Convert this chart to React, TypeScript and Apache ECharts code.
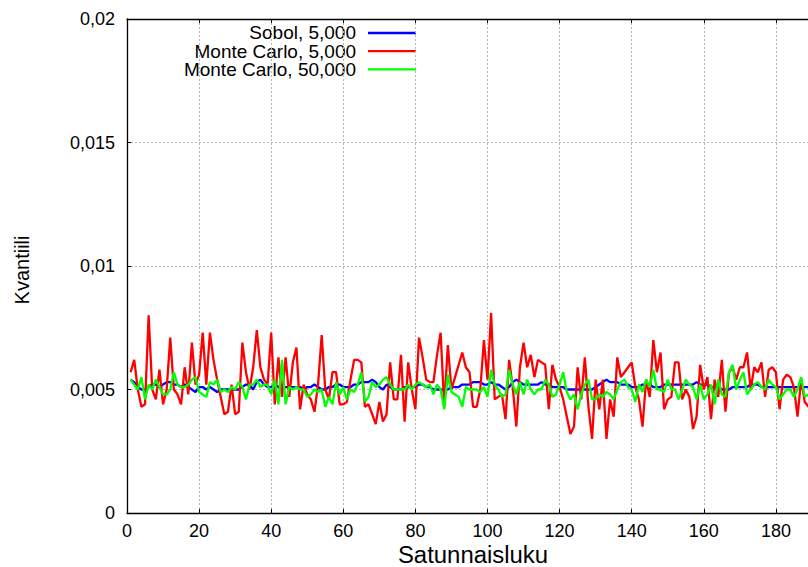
import React, { useEffect, useRef } from "react";
import * as echarts from "echarts";

// Sample index starts at 1
const sobol5000 = [
  0.0054, 0.0053, 0.0051, 0.0050, 0.0050, 0.0051, 0.0052, 0.0052, 0.0051, 0.0052,
  0.0053, 0.0053, 0.0052, 0.0052, 0.0051, 0.0052, 0.0051, 0.0050, 0.0049, 0.0051,
  0.0051, 0.0050, 0.0051, 0.0050, 0.0049, 0.0050, 0.0050, 0.0050, 0.0050, 0.0050,
  0.0050, 0.0051, 0.0052, 0.0052, 0.0050, 0.0053, 0.0054, 0.0052, 0.0051, 0.0051,
  0.0052, 0.0051, 0.0050, 0.0051, 0.0051, 0.0051, 0.0051, 0.0051, 0.0050, 0.0051,
  0.0051, 0.0052, 0.0051, 0.0050, 0.0050, 0.0051, 0.0051, 0.0052, 0.0052, 0.0051,
  0.0051, 0.0051, 0.0052, 0.0052, 0.0053, 0.0053, 0.0053, 0.0054, 0.0053, 0.0051,
  0.0050, 0.0052, 0.0051, 0.0050, 0.0050, 0.0050, 0.0051, 0.0051, 0.0051, 0.0051,
  0.0052, 0.0052, 0.0051, 0.0051, 0.0050, 0.0050, 0.0050, 0.0050, 0.0050, 0.0051,
  0.0051, 0.0051, 0.0052, 0.0052, 0.0052, 0.0053, 0.0053, 0.0053, 0.0052, 0.0052,
  0.0053, 0.0052, 0.0052, 0.0051, 0.0050, 0.0051, 0.0053, 0.0054, 0.0053, 0.0052,
  0.0052, 0.0052, 0.0052, 0.0052, 0.0053, 0.0052, 0.0052, 0.0051, 0.0051, 0.0051,
  0.0051, 0.0050, 0.0050, 0.0050, 0.0050, 0.0050, 0.0050, 0.0050, 0.0050, 0.0051,
  0.0052, 0.0053, 0.0054, 0.0053, 0.0053, 0.0053, 0.0052, 0.0052, 0.0052, 0.0051,
  0.0051, 0.0051, 0.0052, 0.0052, 0.0052, 0.0051, 0.0051, 0.0051, 0.0052, 0.0052,
  0.0052, 0.0052, 0.0052, 0.0052, 0.0052, 0.0052, 0.0052, 0.0053, 0.0052, 0.0052,
  0.0052, 0.0051, 0.0051, 0.0051, 0.0050, 0.0050, 0.0050, 0.0051, 0.0051, 0.0051,
  0.0051, 0.0051, 0.0052, 0.0052, 0.0052, 0.0051, 0.0051, 0.0051, 0.0051, 0.0051,
  0.0051, 0.0051, 0.0051, 0.0051, 0.0051, 0.0051, 0.0051, 0.0051, 0.0051,
];

const monteCarlo5000 = [
  0.0057, 0.0062, 0.0050, 0.0043, 0.0044, 0.0080, 0.0050, 0.0046, 0.0058, 0.0044,
  0.0050, 0.0071, 0.0050, 0.0048, 0.0044, 0.0059, 0.0048, 0.0069, 0.0052, 0.0056,
  0.0073, 0.0052, 0.0073, 0.0062, 0.0054, 0.0047, 0.0040, 0.0041, 0.0052, 0.0040,
  0.0041, 0.0069, 0.0057, 0.0050, 0.0059, 0.0074, 0.0059, 0.0054, 0.0052, 0.0073,
  0.0044, 0.0063, 0.0047, 0.0063, 0.0047, 0.0061, 0.0067, 0.0042, 0.0052, 0.0048,
  0.0046, 0.0041, 0.0052, 0.0072, 0.0050, 0.0046, 0.0057, 0.0057, 0.0044, 0.0044,
  0.0045, 0.0054, 0.0062, 0.0062, 0.0061, 0.0043, 0.0044, 0.0040, 0.0036, 0.0045,
  0.0037, 0.0040, 0.0061, 0.0046, 0.0046, 0.0064, 0.0037, 0.0061, 0.0050, 0.0042,
  0.0071, 0.0063, 0.0054, 0.0053, 0.0053, 0.0064, 0.0073, 0.0043, 0.0068, 0.0050,
  0.0055, 0.0060, 0.0065, 0.0059, 0.0057, 0.0043, 0.0043, 0.0050, 0.0070, 0.0054,
  0.0081, 0.0046, 0.0047, 0.0048, 0.0038, 0.0062, 0.0051, 0.0035, 0.0059, 0.0069,
  0.0059, 0.0064, 0.0055, 0.0062, 0.0061, 0.0060, 0.0042, 0.0060, 0.0054, 0.0051,
  0.0046, 0.0039, 0.0032, 0.0035, 0.0059, 0.0046, 0.0063, 0.0043, 0.0030, 0.0054,
  0.0042, 0.0054, 0.0030, 0.0046, 0.0039, 0.0063, 0.0055, 0.0057, 0.0059, 0.0061,
  0.0051, 0.0046, 0.0035, 0.0054, 0.0047, 0.0070, 0.0057, 0.0065, 0.0042, 0.0046,
  0.0047, 0.0061, 0.0061, 0.0046, 0.0050, 0.0047, 0.0034, 0.0039, 0.0060, 0.0050,
  0.0055, 0.0038, 0.0054, 0.0047, 0.0062, 0.0041, 0.0057, 0.0059, 0.0054, 0.0059,
  0.0059, 0.0065, 0.0050, 0.0059, 0.0057, 0.0061, 0.0047, 0.0058, 0.0059, 0.0057,
  0.0042, 0.0054, 0.0056, 0.0055, 0.0051, 0.0039, 0.0054, 0.0045, 0.0043,
];

const monteCarlo50000 = [
  0.0054, 0.0052, 0.0050, 0.0055, 0.0046, 0.0052, 0.0050, 0.0054, 0.0051, 0.0048,
  0.0048, 0.0050, 0.0057, 0.0052, 0.0051, 0.0051, 0.0052, 0.0054, 0.0055, 0.0049,
  0.0048, 0.0047, 0.0053, 0.0052, 0.0054, 0.0049, 0.0050, 0.0049, 0.0051, 0.0050,
  0.0053, 0.0051, 0.0046, 0.0052, 0.0052, 0.0054, 0.0051, 0.0052, 0.0052, 0.0048,
  0.0054, 0.0044, 0.0062, 0.0044, 0.0051, 0.0050, 0.0051, 0.0050, 0.0050, 0.0047,
  0.0048, 0.0050, 0.0049, 0.0050, 0.0043, 0.0047, 0.0044, 0.0053, 0.0048, 0.0051,
  0.0046, 0.0050, 0.0049, 0.0052, 0.0057, 0.0045, 0.0047, 0.0053, 0.0051, 0.0052,
  0.0054, 0.0055, 0.0052, 0.0050, 0.0050, 0.0050, 0.0050, 0.0052, 0.0050, 0.0052,
  0.0053, 0.0052, 0.0051, 0.0052, 0.0048, 0.0052, 0.0050, 0.0042, 0.0056, 0.0049,
  0.0048, 0.0047, 0.0043, 0.0051, 0.0050, 0.0050, 0.0050, 0.0049, 0.0051, 0.0047,
  0.0058, 0.0052, 0.0050, 0.0047, 0.0048, 0.0058, 0.0052, 0.0048, 0.0053, 0.0048,
  0.0054, 0.0050, 0.0048, 0.0050, 0.0050, 0.0054, 0.0052, 0.0047, 0.0048, 0.0052,
  0.0057, 0.0049, 0.0046, 0.0048, 0.0042, 0.0048, 0.0052, 0.0054, 0.0046, 0.0046,
  0.0048, 0.0047, 0.0049, 0.0048, 0.0046, 0.0050, 0.0053, 0.0054, 0.0051, 0.0050,
  0.0045, 0.0052, 0.0049, 0.0054, 0.0051, 0.0058, 0.0050, 0.0050, 0.0049, 0.0054,
  0.0050, 0.0050, 0.0046, 0.0050, 0.0054, 0.0052, 0.0051, 0.0046, 0.0052, 0.0046,
  0.0048, 0.0052, 0.0044, 0.0054, 0.0048, 0.0047, 0.0057, 0.0060, 0.0050, 0.0054,
  0.0057, 0.0048, 0.0050, 0.0052, 0.0053, 0.0051, 0.0050, 0.0054, 0.0052, 0.0051,
  0.0046, 0.0048, 0.0050, 0.0050, 0.0047, 0.0050, 0.0055, 0.0047, 0.0048,
];

const seriesNames = ["Sobol, 5,000", "Monte Carlo, 5,000", "Monte Carlo, 50,000"];
const seriesColors = ["#0000ff", "#ff0000", "#00ff00"];
const xTickLabels = ["0", "20", "40", "60", "80", "100", "120", "140", "160", "180"];
const yTickLabels = ["0", "0,005", "0,01", "0,015", "0,02"];
const xTitle = "Satunnaisluku";
const yTitle = "Kvantiili";

const FONT = "'Liberation Sans', Arial, sans-serif";

export default function App() {
  const ref = useRef<HTMLDivElement>(null);

  useEffect(() => {
    if (!ref.current) return;
    const chart = echarts.init(ref.current, undefined, { renderer: "svg" });
    const allSeries = [sobol5000, monteCarlo5000, monteCarlo50000];

    const gridLine = { show: true, lineStyle: { color: "#b8b8b8", width: 1, type: [2, 2] as any } };
    const legendRowsY = [33, 51.2, 69.4];

    chart.setOption({
      animation: false,
      backgroundColor: "#ffffff",
      grid: {
        left: 127,
        width: 721,
        top: 19,
        height: 494,
        containLabel: false,
        outerBoundsMode: "none",
      },
      xAxis: [
        {
          type: "value",
          min: 0,
          max: 200,
          interval: 20,
          position: "bottom",
          axisLine: { show: true, onZero: false, lineStyle: { color: "#000", width: 1.3 } },
          axisTick: { show: true, inside: true, length: 4, lineStyle: { color: "#000" } },
          axisLabel: {
            color: "#000",
            fontSize: 18,
            fontFamily: FONT,
            margin: 9,
            formatter: (v: number) => xTickLabels[Math.round(v / 20)] ?? "",
          },
          splitLine: gridLine,
        },
        {
          type: "value",
          min: 0,
          max: 200,
          interval: 20,
          position: "top",
          axisLine: { show: true, onZero: false, lineStyle: { color: "#000", width: 1.3 } },
          axisTick: { show: true, inside: true, length: 4, lineStyle: { color: "#000" } },
          axisLabel: { show: false },
          splitLine: { show: false },
        },
      ],
      yAxis: {
        type: "value",
        min: 0,
        max: 0.02,
        interval: 0.005,
        axisLine: { show: true, onZero: false, lineStyle: { color: "#000", width: 1.3 } },
        axisTick: { show: true, inside: true, length: 4, lineStyle: { color: "#000" } },
        axisLabel: {
          color: "#000",
          fontSize: 18,
          fontFamily: FONT,
          margin: 12,
          formatter: (v: number) => yTickLabels[Math.round(v / 0.005)] ?? "",
        },
        splitLine: gridLine,
      },
      series: allSeries.map((vals, si) => ({
        name: seriesNames[si],
        type: "line",
        xAxisIndex: 0,
        showSymbol: false,
        symbol: "none",
        data: vals.map((v, i) => [i + 1, v]),
        lineStyle: { color: seriesColors[si], width: 2.3 },
        itemStyle: { color: seriesColors[si] },
        z: 2 + si,
      })),
      graphic: [
        {
          type: "text",
          x: 473,
          y: 555,
          scaleX: 1.04,
          style: {
            text: xTitle,
            fill: "#000",
            font: `23px ${FONT}`,
            textAlign: "center",
            textVerticalAlign: "middle",
          },
        },
        {
          type: "text",
          x: 22,
          y: 270,
          rotation: Math.PI / 2,
          style: {
            text: yTitle,
            fill: "#000",
            font: `20px ${FONT}`,
            textAlign: "center",
            textVerticalAlign: "middle",
          },
        },
        ...seriesNames.flatMap((name, i) => [
          {
            type: "text",
            x: 356,
            y: legendRowsY[i],
            scaleX: 1.055,
            style: {
              text: name,
              fill: "#000",
              font: `18px ${FONT}`,
              textAlign: "right",
              textVerticalAlign: "middle",
            },
          },
          {
            type: "line",
            shape: { x1: 368, y1: legendRowsY[i], x2: 416, y2: legendRowsY[i] },
            style: { stroke: seriesColors[i], lineWidth: 2.3 },
          },
        ]),
      ],
    });

    return () => chart.dispose();
  }, []);

  return (
    <div
      ref={ref}
      style={{ position: "fixed", left: 0, top: 0, width: 808, height: 567, background: "#fff" }}
    />
  );
}
